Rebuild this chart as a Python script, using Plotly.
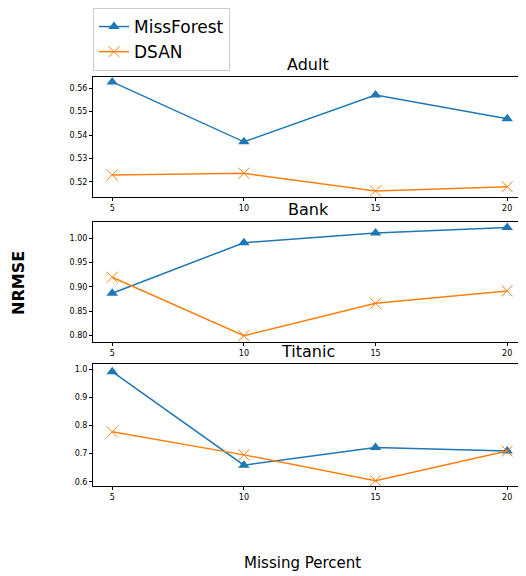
import plotly.graph_objects as go

missing_percent = [5, 10, 15, 20]
datasets = ["Adult", "Bank", "Titanic"]
missforest = {
    "Adult": [0.5626, 0.5371, 0.5570, 0.5469],
    "Bank": [0.887, 0.991, 1.011, 1.022],
    "Titanic": [0.9915, 0.659, 0.722, 0.709],
}
dsan = {
    "Adult": [0.5230, 0.5237, 0.5162, 0.5180],
    "Bank": [0.920, 0.800, 0.8665, 0.892],
    "Titanic": [0.7775, 0.6955, 0.6035, 0.709],
}
y_ticks = {
    "Adult": [0.52, 0.53, 0.54, 0.55, 0.56],
    "Bank": [0.80, 0.85, 0.90, 0.95, 1.00],
    "Titanic": [0.6, 0.7, 0.8, 0.9, 1.0],
}
y_tick_fmt = {"Adult": ".2f", "Bank": ".2f", "Titanic": ".1f"}
y_ranges = {
    "Adult": [0.5136, 0.5647],
    "Bank": [0.787, 1.0335],
    "Titanic": [0.5847, 1.019],
}

# page body has an 8px default margin; figure is sized/positioned to compensate
OFF = 8
W, H = 526 - OFF, 576 - OFF
panels_px = [(77, 197), (222, 342), (364, 486)]


def px_x(x):
    return (x - OFF) / W


def px_y(y):
    return 1 - (y - OFF) / H


x_dom = [px_x(93), min(1.0, px_x(523))]

BLUE = "#1f77b4"
ORANGE = "#ff7f0e"
FONT = "DejaVu Sans"

fig = go.Figure()
layout = dict(
    width=W, height=H,
    margin=dict(l=0, r=0, t=0, b=0),
    paper_bgcolor="white", plot_bgcolor="white",
    font=dict(family=FONT, color="black"),
    showlegend=True,
    legend=dict(
        x=px_x(93), y=min(1.0, px_y(5)), xanchor="left", yanchor="top",
        bordercolor="#cccccc", borderwidth=1,
        font=dict(size=17, family=FONT), bgcolor="white",
        tracegroupgap=0,
    ),
)
annotations = []
for i, name in enumerate(datasets):
    n = i + 1
    xa = "x" if n == 1 else f"x{n}"
    ya = "y" if n == 1 else f"y{n}"
    top, bot = panels_px[i]
    fig.add_trace(go.Scatter(
        x=missing_percent, y=missforest[name], mode="lines+markers",
        name="MissForest", legendgroup="mf", showlegend=(i == 0),
        line=dict(color=BLUE, width=1.5),
        marker=dict(symbol="triangle-up", size=10, color=BLUE),
        xaxis=xa, yaxis=ya, cliponaxis=False,
    ))
    fig.add_trace(go.Scatter(
        x=missing_percent, y=dsan[name], mode="lines+markers",
        name="DSAN", legendgroup="ds", showlegend=(i == 0),
        line=dict(color=ORANGE, width=1.5),
        marker=dict(symbol="x-thin", size=11, color=ORANGE,
                    line=dict(color=ORANGE, width=1)),
        xaxis=xa, yaxis=ya, cliponaxis=False,
    ))
    axis_common = dict(showline=True, linecolor="black", linewidth=1,
                       mirror=True, showgrid=False, zeroline=False,
                       ticks="outside", ticklen=3, tickcolor="black",
                       tickfont=dict(size=8, family=FONT))
    layout["xaxis" if n == 1 else f"xaxis{n}"] = dict(
        domain=x_dom, anchor=ya, range=[4.27, 20.6],
        tickvals=missing_percent, **axis_common)
    layout["yaxis" if n == 1 else f"yaxis{n}"] = dict(
        domain=[px_y(bot), px_y(top)], anchor=xa,
        range=y_ranges[name], tickvals=y_ticks[name],
        tickformat=y_tick_fmt[name], **axis_common)
    annotations.append(dict(
        text=name, x=px_x(308), y=px_y(top),
        xref="paper", yref="paper", xanchor="center", yanchor="bottom",
        showarrow=False, font=dict(size=16, family=FONT), yshift=1))

annotations.append(dict(
    text="<b>NRMSE</b>", x=px_x(18), y=px_y(283), xref="paper", yref="paper",
    xanchor="center", yanchor="middle",
    textangle=-90, showarrow=False, font=dict(size=16, family=FONT)))
annotations.append(dict(
    text="Missing Percent", x=px_x(302), y=px_y(563), xref="paper", yref="paper",
    xanchor="center", yanchor="middle",
    showarrow=False, font=dict(size=15, family=FONT)))
layout["annotations"] = annotations
fig.update_layout(**layout)
fig.write_html("out.html")
